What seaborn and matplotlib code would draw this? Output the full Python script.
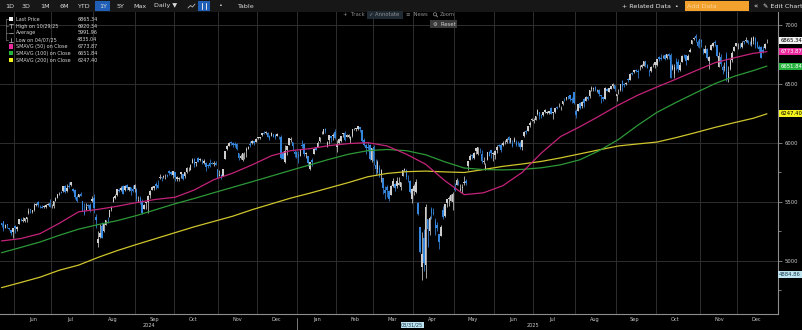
import numpy as np
import pandas as pd
import matplotlib
matplotlib.use("Agg")
import matplotlib.pyplot as plt
import matplotlib.transforms as mtransforms
from matplotlib.patches import Rectangle, Circle
from matplotlib.lines import Line2D
import seaborn as sns

# ---------------------------------------------------------------- data
FIRST_SESSION = "2024-05-22"
LAST_SESSION = "2025-12-22"
MARKET_HOLIDAYS = [
    "2024-05-27", "2024-06-19", "2024-07-04", "2024-09-02", "2024-11-28",
    "2024-12-25", "2025-01-01", "2025-01-09", "2025-01-20", "2025-02-17",
    "2025-04-18", "2025-05-26", "2025-06-19", "2025-07-04", "2025-09-01",
    "2025-11-27", "2025-12-25",
]

OPEN = [
    # 2024 May
    5319, 5340, 5281, 5315, 5279, 5259, 5243,
    # Jun
    5297, 5275, 5314, 5357, 5343, 5341, 5353, 5410, 5441, 5417, 5431, 5476, 5500, 5467, 5459, 5461, 5460, 5473, 5488,
    # Jul
    5471, 5462, 5507, 5537, 5572, 5584, 5591, 5635, 5590, 5638, 5644, 5610, 5600, 5544, 5544, 5566, 5506, 5429, 5433, 5476, 5478, 5505,
    # Aug
    5537, 5376, 5151, 5206, 5294, 5252, 5304, 5351, 5376, 5442, 5501, 5530, 5557, 5603, 5603, 5637, 5602, 5640, 5602, 5624, 5607, 5612,
    # Sep
    5612, 5505, 5530, 5508, 5443, 5490, 5496, 5557, 5604, 5616, 5655, 5641, 5703, 5709, 5712, 5727, 5733, 5763, 5756, 5727,
    # Oct
    5757, 5698, 5698, 5738, 5737, 5719, 5752, 5778, 5775, 5829, 5866, 5828, 5870, 5860, 5858, 5832, 5834, 5817, 5827, 5833, 5820, 5834, 5776,
    # Nov
    5724, 5725, 5722, 5864, 5947, 5977, 6009, 6004, 5986, 5990, 5912, 5876, 5860, 5914, 5928, 5947, 5992, 6000, 6015, 6011,
    # Dec
    6040, 6042, 6069, 6084, 6081, 6084, 6058, 6060, 6075, 6068, 6063, 6053, 6048, 5913, 5843, 5941, 5985, 6025, 6006, 5921, 5920,
    # 2025 Jan
    5903, 5891, 5983, 5994, 5910, 5890, 5782, 5860, 5906, 5962, 5969, 6015, 6081, 6076, 6121, 5969, 6026, 6058, 6057, 6097,
    # Feb
    5969, 5998, 6021, 6073, 6083, 6048, 6049, 6025, 6061, 6115, 6121, 6118, 6135, 6114, 6027, 5983, 5970, 5981, 5857,
    # Mar
    5969, 5811, 5782, 5787, 5726, 5705, 5603, 5624, 5594, 5563, 5635, 5655, 5632, 5646, 5630, 5718, 5775, 5772, 5696, 5679, 5527,
    # Apr
    5597, 5581, 5492, 5292, 4953, 5194, 4966, 5353, 5255, 5441, 5411, 5335, 5305, 5232, 5208, 5429, 5381, 5490, 5529, 5508, 5499,
    # May
    5626, 5645, 5655, 5605, 5619, 5663, 5679, 5807, 5855, 5896, 5869, 5929, 5903, 5944, 5910, 5841, 5781, 5855, 5925, 5939, 5903,
    # Jun
    5896, 5938, 5979, 5985, 5987, 6005, 6010, 6049, 6010, 5997, 6005, 6012, 5985, 6004, 5970, 6061, 6104, 6100, 6151, 6194,
    # Jul
    6187, 6193, 6243, 6259, 6237, 6240, 6262, 6256, 6255, 6295, 6250, 6264, 6306, 6305, 6306, 6327, 6368, 6370, 6397, 6409, 6377, 6428,
    # Aug
    6271, 6272, 6336, 6310, 6375, 6355, 6389, 6398, 6461, 6454, 6478, 6445, 6446, 6408, 6386, 6375, 6458, 6436, 6456, 6484, 6492,
    # Sep
    6401, 6445, 6453, 6529, 6498, 6500, 6541, 6538, 6590, 6601, 6619, 6607, 6627, 6641, 6652, 6695, 6663, 6611, 6612, 6661, 6658,
    # Oct
    6663, 6732, 6722, 6734, 6746, 6722, 6754, 6744, 6627, 6585, 6694, 6689, 6617, 6688, 6737, 6743, 6702, 6774, 6843, 6882, 6906, 6860, 6885,
    # Nov
    6875, 6797, 6765, 6793, 6694, 6790, 6820, 6856, 6833, 6646, 6733, 6648, 6632, 6747, 6541, 6624, 6707, 6779, 6822,
    # Dec
    6812, 6830, 6815, 6866, 6866, 6873, 6842, 6839, 6867, 6892, 6857, 6815, 6810, 6792, 6802, 6862,
]

HIGH = [
    5323, 5341, 5311, 5315, 5282, 5260, 5280,
    5302, 5298, 5355, 5362, 5376, 5365, 5376, 5448, 5441, 5432, 5489, 5490, 5506, 5478, 5476, 5472, 5483, 5490, 5524,
    5480, 5510, 5539, 5570, 5583, 5590, 5635, 5642, 5655, 5670, 5667, 5622, 5614, 5556, 5570, 5586, 5509, 5492, 5488, 5487, 5490, 5551,
    5566, 5395, 5250, 5313, 5331, 5326, 5350, 5371, 5436, 5464, 5546, 5564, 5608, 5620, 5633, 5644, 5642, 5651, 5631, 5628, 5646, 5651,
    5620, 5552, 5551, 5522, 5484, 5497, 5560, 5600, 5636, 5636, 5671, 5690, 5734, 5716, 5725, 5735, 5741, 5767, 5764, 5765,
    5757, 5720, 5714, 5752, 5739, 5757, 5796, 5796, 5822, 5871, 5871, 5843, 5879, 5869, 5866, 5864, 5835, 5826, 5863, 5843, 5848, 5850, 5776,
    5772, 5741, 5783, 5936, 5983, 6012, 6017, 6010, 6009, 6001, 5915, 5909, 5918, 5920, 5963, 5972, 6021, 6026, 6021, 6044,
    6053, 6052, 6087, 6099, 6099, 6089, 6066, 6092, 6079, 6078, 6085, 6058, 6070, 5936, 5982, 5978, 6040, 6049, 6006, 5941, 5929,
    5936, 5949, 6022, 6000, 5927, 5891, 5837, 5871, 5961, 5964, 6014, 6051, 6101, 6119, 6128, 6017, 6069, 6062, 6086, 6120,
    6022, 6042, 6062, 6084, 6101, 6074, 6076, 6063, 6116, 6128, 6129, 6147, 6137, 6114, 6044, 5993, 6010, 5994, 5959,
    5986, 5866, 5860, 5812, 5783, 5705, 5636, 5642, 5598, 5646, 5704, 5662, 5716, 5711, 5670, 5775, 5787, 5783, 5732, 5685, 5621,
    5650, 5695, 5500, 5292, 5247, 5267, 5481, 5353, 5381, 5459, 5450, 5367, 5328, 5233, 5309, 5469, 5484, 5528, 5553, 5565, 5581,
    5659, 5700, 5685, 5649, 5654, 5721, 5691, 5845, 5906, 5906, 5924, 5958, 5968, 5954, 5939, 5878, 5829, 5925, 5929, 5944, 5922,
    5937, 5981, 5990, 5999, 6017, 6022, 6044, 6059, 6046, 6027, 6051, 6023, 6018, 6018, 6028, 6101, 6108, 6146, 6188, 6216,
    6211, 6228, 6285, 6262, 6243, 6266, 6290, 6270, 6272, 6303, 6265, 6299, 6315, 6336, 6316, 6360, 6381, 6390, 6401, 6410, 6392, 6428,
    6288, 6330, 6344, 6352, 6379, 6395, 6401, 6446, 6480, 6474, 6482, 6457, 6456, 6410, 6394, 6478, 6466, 6466, 6487, 6508, 6493,
    6417, 6454, 6503, 6533, 6511, 6516, 6555, 6593, 6601, 6618, 6623, 6625, 6657, 6672, 6694, 6697, 6668, 6627, 6650, 6679, 6689,
    6715, 6740, 6750, 6749, 6755, 6754, 6759, 6765, 6668, 6670, 6722, 6711, 6690, 6744, 6752, 6745, 6750, 6807, 6876, 6899, 6920.34, 6876, 6885,
    6884, 6803, 6830, 6802, 6734, 6842, 6852, 6869, 6834, 6775, 6757, 6665, 6684, 6770, 6655, 6715, 6776, 6823, 6850,
    6844, 6851, 6862, 6867, 6895, 6876, 6865, 6900, 6904, 6902, 6867, 6830, 6818, 6820, 6845, 6880,
]

LOW = [
    5286, 5257, 5278, 5280, 5262, 5223, 5192,
    5235, 5258, 5314, 5335, 5331, 5332, 5327, 5396, 5403, 5403, 5425, 5468, 5455, 5452, 5446, 5446, 5451, 5471, 5460,
    5448, 5453, 5507, 5530, 5563, 5574, 5587, 5576, 5583, 5620, 5632, 5584, 5523, 5497, 5541, 5553, 5425, 5391, 5430, 5445, 5411, 5500,
    5410, 5283, 5120, 5194, 5191, 5246, 5303, 5324, 5376, 5420, 5497, 5527, 5550, 5585, 5591, 5569, 5590, 5602, 5593, 5560, 5583, 5581,
    5511, 5501, 5486, 5402, 5443, 5442, 5406, 5536, 5601, 5604, 5614, 5615, 5691, 5675, 5704, 5699, 5712, 5728, 5727, 5703,
    5681, 5674, 5675, 5704, 5685, 5705, 5746, 5764, 5775, 5829, 5800, 5806, 5840, 5846, 5824, 5822, 5762, 5785, 5799, 5820, 5803, 5811, 5703,
    5724, 5697, 5722, 5864, 5943, 5971, 5986, 5963, 5970, 5944, 5854, 5866, 5850, 5861, 5885, 5945, 5963, 5990, 5987, 6010,
    6036, 6034, 6056, 6076, 6079, 6048, 6024, 6057, 6051, 6035, 6059, 6036, 5867, 5867, 5833, 5902, 5982, 6007, 5933, 5878, 5869,
    5829, 5888, 5960, 5890, 5874, 5809, 5774, 5802, 5906, 5938, 5966, 6007, 6075, 6075, 6088, 5962, 5995, 6007, 6027, 6031,
    5924, 5991, 6007, 6048, 6019, 6048, 6042, 6003, 6051, 6109, 6100, 6111, 6089, 6009, 5977, 5909, 5933, 5858, 5837,
    5810, 5732, 5742, 5711, 5667, 5565, 5529, 5546, 5505, 5563, 5628, 5597, 5622, 5641, 5604, 5718, 5764, 5695, 5670, 5572, 5489,
    5558, 5572, 5390, 5069, 4835.04, 4911, 4857, 5115, 5220, 5358, 5386, 5221, 5255, 5101, 5208, 5357, 5372, 5455, 5468, 5505, 5434,
    5597, 5645, 5642, 5597, 5578, 5644, 5647, 5775, 5854, 5868, 5862, 5908, 5896, 5915, 5830, 5825, 5767, 5855, 5886, 5875, 5844,
    5862, 5918, 5966, 5921, 5978, 5994, 6000, 6003, 6004, 5964, 6005, 5974, 5971, 5952, 5944, 6054, 6080, 6100, 6133, 6184,
    6172, 6192, 6241, 6201, 6215, 6231, 6251, 6249, 6242, 6242, 6201, 6258, 6285, 6303, 6282, 6318, 6360, 6364, 6375, 6360, 6343, 6331,
    6212, 6271, 6284, 6300, 6304, 6352, 6362, 6381, 6443, 6441, 6442, 6433, 6397, 6343, 6360, 6375, 6438, 6435, 6455, 6469, 6444,
    6360, 6416, 6443, 6443, 6477, 6490, 6515, 6533, 6578, 6597, 6603, 6552, 6619, 6633, 6652, 6642, 6632, 6570, 6602, 6645, 6639,
    6656, 6697, 6707, 6717, 6700, 6712, 6715, 6550, 6615, 6552, 6616, 6599, 6612, 6688, 6720, 6658, 6700, 6772, 6837, 6869, 6856, 6817, 6808,
    6817, 6754, 6760, 6711, 6631, 6790, 6815, 6819, 6726, 6646, 6654, 6585, 6608, 6525, 6521, 6620, 6688, 6779, 6819,
    6800, 6803, 6808, 6836, 6858, 6836, 6830, 6825, 6837, 6802, 6808, 6775, 6720, 6761, 6796, 6850,
]

CLOSE = [
    5307, 5268, 5305, 5306, 5267, 5235, 5278,
    5283, 5291, 5354, 5353, 5347, 5361, 5375, 5421, 5434, 5432, 5473, 5487, 5473, 5465, 5448, 5469, 5478, 5483, 5460,
    5475, 5509, 5537, 5567, 5572, 5577, 5633, 5585, 5615, 5631, 5667, 5589, 5545, 5505, 5564, 5555, 5427, 5400, 5459, 5464, 5436, 5522,
    5446, 5347, 5186, 5240, 5199, 5319, 5344, 5344, 5434, 5455, 5543, 5554, 5608, 5597, 5621, 5571, 5635, 5616, 5626, 5592, 5592, 5648,
    5529, 5520, 5503, 5408, 5471, 5496, 5554, 5596, 5626, 5634, 5635, 5618, 5714, 5703, 5719, 5732, 5722, 5745, 5738, 5762,
    5709, 5710, 5700, 5751, 5696, 5751, 5792, 5780, 5815, 5859, 5815, 5842, 5841, 5865, 5853, 5851, 5797, 5809, 5808, 5823, 5832, 5813, 5705,
    5729, 5712, 5782, 5929, 5973, 5996, 6001, 5984, 5985, 5949, 5871, 5893, 5917, 5917, 5949, 5970, 5987, 6021, 5999, 6032,
    6047, 6050, 6087, 6075, 6090, 6053, 6034, 6084, 6051, 6051, 6074, 6051, 5872, 5867, 5931, 5974, 6040, 6037, 5971, 5907, 5882,
    5869, 5942, 5975, 5909, 5918, 5827, 5836, 5843, 5950, 5937, 5997, 6049, 6086, 6119, 6101, 6012, 6067, 6039, 6071, 6041,
    5994, 6037, 6061, 6084, 6026, 6066, 6069, 6052, 6115, 6115, 6129, 6144, 6118, 6013, 5983, 5955, 5956, 5861, 5955,
    5850, 5778, 5843, 5739, 5770, 5615, 5572, 5599, 5522, 5639, 5675, 5615, 5675, 5663, 5668, 5768, 5777, 5712, 5693, 5581, 5612,
    5633, 5671, 5397, 5074, 5062, 4982, 5457, 5268, 5363, 5406, 5397, 5276, 5283, 5158, 5288, 5376, 5485, 5525, 5529, 5561, 5569,
    5604, 5687, 5650, 5607, 5631, 5664, 5660, 5844, 5886, 5892, 5917, 5958, 5964, 5940, 5845, 5842, 5803, 5922, 5889, 5912, 5912,
    5936, 5970, 5971, 5939, 6000, 6006, 6038, 6022, 6045, 5977, 6033, 5982, 5981, 5967, 6025, 6092, 6092, 6141, 6173, 6205,
    6198, 6227, 6279, 6230, 6226, 6263, 6281, 6260, 6269, 6244, 6264, 6297, 6297, 6306, 6309, 6359, 6363, 6389, 6390, 6371, 6362, 6339,
    6238, 6330, 6299, 6345, 6340, 6389, 6374, 6446, 6466, 6469, 6450, 6449, 6411, 6396, 6370, 6467, 6439, 6466, 6481, 6502, 6460,
    6416, 6448, 6502, 6482, 6495, 6512, 6532, 6588, 6584, 6615, 6606, 6600, 6631, 6664, 6693, 6657, 6638, 6605, 6644, 6661, 6688,
    6711, 6715, 6716, 6740, 6714, 6753, 6735, 6553, 6654, 6644, 6671, 6630, 6664, 6735, 6735, 6699, 6738, 6792, 6875, 6891, 6890, 6822, 6840,
    6852, 6771, 6796, 6720, 6729, 6832, 6846, 6851, 6737, 6734, 6672, 6617, 6642, 6538, 6603, 6705, 6766, 6813, 6849,
    6813, 6829, 6850, 6857, 6870, 6846, 6840, 6886, 6901, 6827, 6816, 6800, 6721, 6775, 6835, 6865.34,
]

# simple moving averages on close, read every 10th session plus the last one
SMA_STEP = 10
SMA50 = [
    5170, 5190, 5232, 5320, 5417, 5437, 5464, 5495, 5522, 5540,
    5602, 5688, 5745, 5815, 5892, 5935, 5952, 5978, 5995, 6003,
    5975, 5905, 5820, 5680, 5562, 5578, 5638, 5750, 5915, 6055,
    6138, 6228, 6322, 6405, 6475, 6542, 6612, 6680, 6722, 6760,
    6773.87,
]
SMA100 = [
    5070, 5115, 5161, 5218, 5270, 5308, 5342, 5385, 5435, 5485,
    5530, 5578, 5625, 5672, 5720, 5768, 5815, 5862, 5905, 5935,
    5945, 5935, 5900, 5840, 5788, 5775, 5772, 5776, 5790, 5815,
    5858, 5935, 6030, 6150, 6260, 6345, 6425, 6503, 6565, 6614,
    6651.84,
]
SMA200 = [
    4774, 4818, 4863, 4922, 4965, 5030, 5088, 5140, 5190, 5240,
    5290, 5335, 5380, 5435, 5484, 5533, 5575, 5620, 5665, 5714,
    5742, 5757, 5762, 5755, 5750, 5775, 5802, 5822, 5844, 5874,
    5908, 5942, 5975, 5992, 6008, 6046, 6088, 6132, 6172, 6210,
    6247.40,
]

AVERAGE_PRICE = 5991.96
CURSOR_DATE = "2025-03-31"
CURSOR_PRICE = 4884.86

Y_MAJOR = [5000, 5500, 6000, 6500, 7000]
Y_MINOR = [4750, 5250, 5750, 6250, 6750]

# ---------------------------------------------------------------- style
sns.set_theme(style="dark", rc={"axes.facecolor": "black", "figure.facecolor": "black"})
plt.rcParams["font.family"] = ["DejaVu Sans"]

UP_COLOR = "#cdcdcd"
DOWN_COLOR = "#3486dc"
SMA_LINE = {"SMA50": "#c4237a", "SMA100": "#2c9838", "SMA200": "#cfc52c"}
SMA_BADGE = {"SMA50": "#ea2a9e", "SMA100": "#24b43c", "SMA200": "#f4f21c"}
GRID = "#2e2e2e"
AXIS = "#8e8e8e"
TXT = "#c9c9c9"

W, H = 803, 330
fig = plt.figure(figsize=(W / 100, H / 100), dpi=100)
fig.patch.set_facecolor("black")
PLOT_TOP, PLOT_BOTTOM, PLOT_RIGHT = 10, 314, 778
ax = fig.add_axes([0, 1 - PLOT_BOTTOM / H, PLOT_RIGHT / W, (PLOT_BOTTOM - PLOT_TOP) / H])
ax.set_facecolor("black")

# pixel coordinates of the figure, origin at top-left
PX = mtransforms.Affine2D().scale(1.0 / W, -1.0 / H).translate(0, 1) + fig.transFigure
X_DATA_Y_PX = mtransforms.blended_transform_factory(ax.transData, PX)
X_AX_Y_DATA = mtransforms.blended_transform_factory(ax.transAxes, ax.transData)

# ---------------------------------------------------------------- candles
sessions = pd.bdate_range(FIRST_SESSION, LAST_SESSION, freq="C", holidays=MARKET_HOLIDAYS)
assert len(sessions) == len(OPEN) == len(HIGH) == len(LOW) == len(CLOSE), (
    len(sessions), len(OPEN), len(HIGH), len(LOW), len(CLOSE))
n = len(sessions)
xs = np.arange(n)
o = np.asarray(OPEN, float)
h = np.asarray(HIGH, float)
lo = np.asarray(LOW, float)
c = np.asarray(CLOSE, float)
colors = np.where(c >= o, UP_COLOR, DOWN_COLOR)

ax.vlines(xs, lo, h, colors=colors, linewidth=0.55, zorder=3)
body_low = np.minimum(o, c)
body_h = np.maximum(np.abs(c - o), 3.0)
ax.bar(xs, body_h, bottom=body_low, width=0.8, color=colors, linewidth=0, zorder=4)

# ---------------------------------------------------------------- moving averages
sma_x = list(range(0, n, SMA_STEP))
if sma_x[-1] != n - 1:
    sma_x.append(n - 1)
sma_df = pd.concat([
    pd.DataFrame({"x": sma_x, "value": vals, "study": name})
    for name, vals in (("SMA200", SMA200), ("SMA100", SMA100), ("SMA50", SMA50))
])
sns.lineplot(data=sma_df, x="x", y="value", hue="study", palette=SMA_LINE,
             estimator=None, sort=False, linewidth=0.9, legend=False, ax=ax, zorder=5)

# ---------------------------------------------------------------- axes
ax.set_xlim(-0.78, 402.75)
ax.set_ylim(4550.8, 7127.1)
ax.set_xlabel("")
ax.set_ylabel("")

month_start = [i for i in range(1, n) if sessions[i].month != sessions[i - 1].month]
ax.set_xticks([i - 0.5 for i in month_start])
ax.tick_params(axis="x", length=2, width=0.6, color=AXIS, labelbottom=False, direction="out")
ax.yaxis.tick_right()
ax.set_yticks(Y_MAJOR)
ax.set_yticks(Y_MINOR, minor=True)
ax.set_yticklabels([str(v) for v in Y_MAJOR])
ax.tick_params(axis="y", which="major", length=3, width=0.6, color=AXIS,
               labelsize=3.8, labelcolor=TXT, pad=1.5, direction="out")
ax.tick_params(axis="y", which="minor", length=2, width=0.6, color=AXIS, direction="out")
ax.grid(True, which="major", color=GRID, linewidth=0.7)
for side in ("top", "left"):
    ax.spines[side].set_visible(False)
for side in ("bottom", "right"):
    ax.spines[side].set_visible(True)
    ax.spines[side].set_color(AXIS)
    ax.spines[side].set_linewidth(0.8)

# month and year labels below the axis
MONTH_NAMES = ["Jan", "Feb", "Mar", "Apr", "May", "Jun", "Jul", "Aug", "Sep", "Oct", "Nov", "Dec"]
starts = [0] + month_start
for k, s in enumerate(starts):
    e = starts[k + 1] if k + 1 < len(starts) else n
    if e - s < 12:
        continue
    ax.text(s - 0.5 + 10, 319.5, MONTH_NAMES[sessions[s].month - 1], transform=X_DATA_Y_PX,
            ha="center", va="center", fontsize=3.6, color=TXT)
years = sessions.year
for yr in sorted(set(years)):
    idx = np.where(years == yr)[0]
    ax.text(idx.mean(), 325.5, str(yr), transform=X_DATA_Y_PX,
            ha="center", va="center", fontsize=3.6, color=TXT)
for s in month_start:
    if sessions[s].month == 1:
        fig.add_artist(Line2D([s - 0.5, s - 0.5], [318, 330], transform=X_DATA_Y_PX,
                              color=AXIS, linewidth=0.6))

cursor_i = int(np.where(sessions == pd.Timestamp(CURSOR_DATE))[0][0])
ax.text(cursor_i, 325, sessions[cursor_i].strftime("%m/%d/%y"), transform=X_DATA_Y_PX,
        ha="center", va="center", fontsize=3.6, color="#16364e", clip_on=False,
        bbox=dict(boxstyle="square,pad=0.12", fc="#bfe4ef", ec="none"))

# value badges on the price scale
def badge(value, fc, tc, x0=1.003):
    ax.text(x0, value, f"{value:.2f}", transform=X_AX_Y_DATA, ha="left", va="center",
            fontsize=3.8, color=tc, clip_on=False, zorder=10,
            bbox=dict(boxstyle="square,pad=0.18", fc=fc, ec="none"))

badge(CLOSE[-1], "#f2f2f2", "#000000")
badge(SMA50[-1], SMA_BADGE["SMA50"], "#ffffff")
badge(SMA100[-1], SMA_BADGE["SMA100"], "#ffffff")
badge(SMA200[-1], SMA_BADGE["SMA200"], "#000000")
badge(CURSOR_PRICE, "#bfe4ef", "#16364e", x0=1.001)

# ---------------------------------------------------------------- legend block
hi_i = int(np.argmax(h))
lo_i = int(np.argmin(lo))
rows = [
    ("Last Price", c[-1], "sq", "#f4f4f4"),
    (f"High on {sessions[hi_i]:%m/%d/%y}", h[hi_i], "hi", TXT),
    ("Average", AVERAGE_PRICE, "avg", TXT),
    (f"Low on {sessions[lo_i]:%m/%d/%y}", lo[lo_i], "lo", TXT),
    ("SMAVG (50) on Close", SMA50[-1], "sq", SMA_BADGE["SMA50"]),
    ("SMAVG (100) on Close", SMA100[-1], "sq", SMA_BADGE["SMA100"]),
    ("SMAVG (200) on Close", SMA200[-1], "sq", SMA_BADGE["SMA200"]),
]
row_y0, row_dy = 19.3, 6.8
fig.add_artist(Line2D([6, 6], [row_y0, row_y0 + 3 * row_dy], transform=PX, color="#777777", lw=0.5))
for r, (label, val, kind, col) in enumerate(rows):
    y = row_y0 + r * row_dy
    if kind == "sq":
        fig.add_artist(Rectangle((9.2, y - 2.1), 4.2, 4.2, transform=PX, fc=col, ec="none"))
    elif kind == "hi":
        fig.add_artist(Line2D([9.5, 13], [y - 2, y - 2], transform=PX, color=TXT, lw=0.5))
        fig.add_artist(Line2D([11.2, 11.2], [y - 2, y + 2], transform=PX, color=TXT, lw=0.5))
    elif kind == "lo":
        fig.add_artist(Line2D([9.5, 13], [y + 2, y + 2], transform=PX, color=TXT, lw=0.5))
        fig.add_artist(Line2D([11.2, 11.2], [y - 2, y + 2], transform=PX, color=TXT, lw=0.5))
    else:
        fig.add_artist(Line2D([9.5, 13], [y, y], transform=PX, color=TXT, lw=0.5))
    if r < 4:
        fig.add_artist(Line2D([6, 8.5], [y, y], transform=PX, color="#777777", lw=0.5))
    fig.text(16, y, label, transform=PX, ha="left", va="center", fontsize=3.5, color="#d6d6d6")
    fig.text(97.5, y, f"{val:.2f}", transform=PX, ha="right", va="center", fontsize=3.5, color="#d6d6d6")

# ---------------------------------------------------------------- toolbar
fig.add_artist(Rectangle((0, 0), W, 12, transform=PX, fc="#171717", ec="none"))
fig.add_artist(Rectangle((95.5, 0.8), 15, 10.4, transform=PX, fc="#1f5fb8", ec="none"))
fig.add_artist(Rectangle((198, 0.8), 12.5, 10.4, transform=PX, fc="#1f5fb8", ec="none"))
for label, xc in (("1D", 9.5), ("3D", 26), ("1M", 45), ("6M", 64), ("YTD", 83), ("1Y", 103),
                  ("5Y", 120.5), ("Max", 140), ("Daily \u25bc", 166), ("\u2022", 220.5), ("Table", 245)):
    fig.text(xc, 6, label, transform=PX, ha="center", va="center", fontsize=4.6, color="#d9d9d9")
fig.add_artist(Line2D([188, 190.5, 192.5, 195], [8, 5.5, 7, 4], transform=PX, color="#bbbbbb", lw=0.6))
for xx in (202, 206):
    fig.add_artist(Line2D([xx, xx], [3, 9], transform=PX, color="#e6e6e6", lw=0.7))
fig.text(650, 6, "+ Related Data  \u2022", transform=PX, ha="center", va="center", fontsize=4.6, color="#e6e6e6")
fig.add_artist(Rectangle((685, 1), 64.5, 10, transform=PX, fc="#f2a12c", ec="none"))
fig.text(687.5, 6, "Add Data", transform=PX, ha="left", va="center", fontsize=4.6, color="#fbd39a")
fig.text(756, 6, "\u00ab", transform=PX, ha="center", va="center", fontsize=5.2, color="#e6e6e6")
fig.text(763, 6, "\u270e Edit Chart", transform=PX, ha="left", va="center", fontsize=4.6, color="#e6e6e6")

# chart tools row
fig.add_artist(Rectangle((367.5, 11.3), 36, 7.4, transform=PX, fc="#202a33", ec="none"))
fig.add_artist(Rectangle((430.5, 20.2), 27, 7.6, transform=PX, fc="#3a3a3a", ec="none"))
for label, x0 in (("+  Track", 343.5), ("\u2713 Annotate", 369), ("\u2261  News", 406), ("Zoom", 440)):
    fig.text(x0, 15, label, transform=PX, ha="left", va="center", fontsize=3.8, color="#8f8f8f")
# magnifier icon next to "Zoom"
fig.add_artist(Circle((435, 14.3), 1.6, transform=PX, fc="none", ec="#8f8f8f", lw=0.5))
fig.add_artist(Line2D([436.1, 437.6], [15.4, 16.9], transform=PX, color="#8f8f8f", lw=0.6))
fig.text(433, 24, "\u2699  Reset", transform=PX, ha="left", va="center", fontsize=3.8, color="#d0d0d0")

fig.savefig("out.png", dpi=100, facecolor="black")
